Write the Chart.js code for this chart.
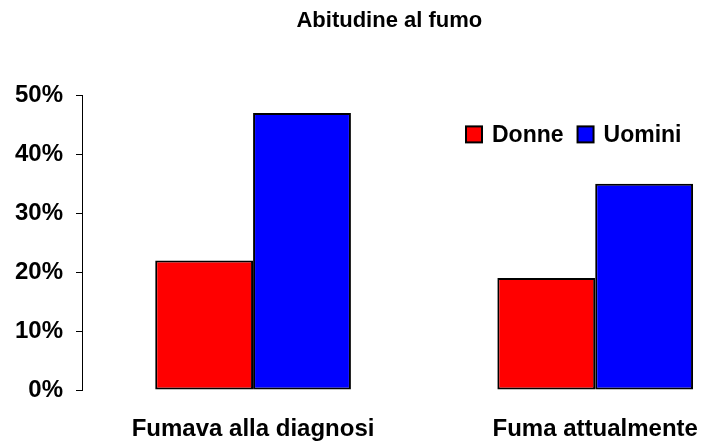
<!DOCTYPE html>
<html>
<head>
<meta charset="utf-8">
<script src="https://cdn.jsdelivr.net/npm/chart.js@4.4.1/dist/chart.umd.min.js"></script>
<style>
  html, body { margin: 0; padding: 0; background: #fff; }
  #wrap { width: 717px; height: 441px; }
</style>
</head>
<body>
<div id="wrap"><canvas id="chart"></canvas></div>
<script>
// Data
const categories = ['Fumava alla diagnosi', 'Fuma attualmente'];
const donne = [0.22, 0.19];
const uomini = [0.47, 0.35];
const seriesNames = ['Donne', 'Uomini'];
const yTicks = [0, 0.1, 0.2, 0.3, 0.4, 0.5];

const FONT = "'Liberation Sans', Arial, sans-serif";

const toPoints = vals => vals.map((v, i) => ({ x: i, y: v }));

// Legend drawn by hand, inside the plot area, top right
const legendPlugin = {
  id: 'boxLegend',
  afterLayout(chart) {
    // center the title over the plot area rather than the canvas
    chart.titleBlock.left = chart.chartArea.left;
    chart.titleBlock.right = chart.chartArea.right - 8;
  },
  afterDraw(chart) {
    const ctx = chart.ctx;
    const area = chart.chartArea;
    let x = area.left + 384;
    const y = area.top + 39;
    ctx.save();
    ctx.font = 'bold 23px ' + FONT;
    ctx.textBaseline = 'middle';
    chart.data.datasets.forEach(ds => {
      ctx.fillStyle = ds.backgroundColor;
      ctx.fillRect(x, y - 8, 16, 16);
      ctx.strokeStyle = '#000';
      ctx.lineWidth = 2;
      ctx.strokeRect(x, y - 8, 16, 16);
      ctx.fillStyle = '#000';
      ctx.fillText(ds.label, x + 26, y + 1);
      x += 26 + ctx.measureText(ds.label).width + 14;
    });
    ctx.restore();
  }
};

new Chart(document.getElementById('chart'), {
  type: 'bar',
  data: {
    datasets: [{
      label: seriesNames[0],
      data: toPoints(donne),
      backgroundColor: '#ff0000',
      borderColor: '#000',
      borderWidth: 2,
      borderSkipped: false,
      categoryPercentage: 0.572,
      barPercentage: 1
    }, {
      label: seriesNames[1],
      data: toPoints(uomini),
      backgroundColor: '#0000ff',
      borderColor: '#000',
      borderWidth: 2,
      borderSkipped: false,
      categoryPercentage: 0.572,
      barPercentage: 1
    }]
  },
  options: {
    responsive: true,
    maintainAspectRatio: false,
    animation: false,
    layout: { padding: { left: 0, right: 12, top: 0, bottom: 0 } },
    plugins: {
      legend: { display: false },
      tooltip: { enabled: false },
      title: {
        display: true,
        text: 'Abitudine al fumo',
        color: '#000',
        font: { family: FONT, size: 22, weight: 'bold' },
        padding: { top: 8, bottom: 61 }
      }
    },
    scales: {
      x: {
        type: 'linear',
        min: -0.5,
        max: 1.32,
        offset: false,
        grid: { display: false },
        border: { display: false },
        afterBuildTicks: s => { s.ticks = categories.map((c, i) => ({ value: i })); },
        afterFit: s => { s.height = 51; },
        ticks: {
          color: '#000',
          padding: 17,
          maxRotation: 0,
          autoSkip: false,
          font: { family: FONT, size: 24, weight: 'bold' },
          callback: v => categories[v]
        }
      },
      y: {
        min: 0,
        max: 0.5,
        afterBuildTicks: s => { s.ticks = yTicks.map(v => ({ value: v })); },
        afterFit: s => { s.width = 82; },
        grid: { drawOnChartArea: false, color: '#000', tickLength: 6 },
        border: { display: true, color: '#000', width: 1 },
        ticks: {
          color: '#000',
          padding: 13,
          font: { family: FONT, size: 24, weight: 'bold' },
          callback: v => Math.round(v * 100) + '%'
        }
      }
    }
  },
  plugins: [legendPlugin]
});
</script>
</body>
</html>
